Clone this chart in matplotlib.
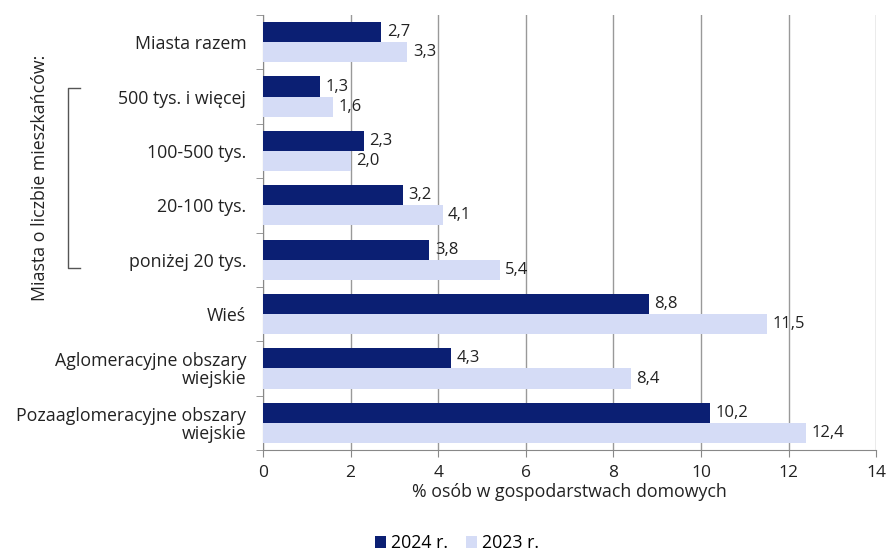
import numpy as np
import matplotlib.pyplot as plt
from matplotlib.ticker import FixedLocator

plt.rcParams['font.family'] = ['Open Sans', 'DejaVu Sans']

categories = ["Miasta razem", "500 tys. i więcej", "100-500 tys.", "20-100 tys.",
              "poniżej 20 tys.", "Wieś", "Aglomeracyjne obszary\nwiejskie",
              "Pozaaglomeracyjne obszary\nwiejskie"]
v2024 = [2.7, 1.3, 2.3, 3.2, 3.8, 8.8, 4.3, 10.2]
v2023 = [3.3, 1.6, 2.0, 4.1, 5.4, 11.5, 8.4, 12.4]
series_labels = ["2024 r.", "2023 r."]

dark = "#0b1f73"
light = "#d5dcf6"
txt = "#222222"
fs = 12.8

fig = plt.figure(figsize=(8.88, 5.57), dpi=100)
ax = fig.add_axes([0.296, 0.192, 0.691, 0.781])

y = np.arange(len(categories))
h = 0.37
b1 = ax.barh(y - h / 2, v2024, height=h, color=dark, label=series_labels[0], zorder=3)
b2 = ax.barh(y + h / 2, v2023, height=h, color=light, label=series_labels[1], zorder=3)

for bars, vals in ((b1, v2024), (b2, v2023)):
    for bar, v in zip(bars, vals):
        ax.annotate(f"{v:.1f}".replace(".", ","),
                    (bar.get_width(), bar.get_y() + bar.get_height() / 2),
                    xytext=(4, 0), textcoords="offset points",
                    ha="left", va="center", fontsize=12, color=txt)

ax.set_ylim(len(categories) - 0.5, -0.5)
ax.set_xlim(0, 14)
ax.set_xticks(np.arange(0, 15, 2))
ax.set_yticks(y)
ax.set_yticklabels(categories, fontsize=fs, color=txt, linespacing=1.0)
ax.yaxis.set_minor_locator(FixedLocator(np.arange(-0.5, len(categories), 1)))
ax.tick_params(axis="y", which="major", length=0, pad=12)
ax.tick_params(axis="y", which="minor", length=5, color="#888888")
ax.tick_params(axis="x", length=5, color="#888888", labelsize=12.5, labelcolor=txt, pad=6)

ax.grid(axis="x", color="#999999", linewidth=1, zorder=0)
for s in ["top", "right"]:
    ax.spines[s].set_visible(False)
ax.spines["left"].set_color("#888888")
ax.spines["bottom"].set_color("#888888")

ax.set_xlabel("% osób w gospodarstwach domowych", fontsize=fs, color=txt, labelpad=1)

# bracket for city-size group
fig.text(0.045, 0.68, "Miasta o liczbie mieszkańców:", rotation=90,
         ha="center", va="center", fontsize=fs, color=txt)
bx0, bx1 = 68 / 888, 80 / 888
by0, by1 = 1 - 88 / 557, 1 - 268 / 557
fig.add_artist(plt.Line2D([bx1, bx0, bx0, bx1], [by0, by0, by1, by1],
                          color="#555555", linewidth=1))

fig.legend(handles=[b1, b2], labels=series_labels, loc="lower center",
           bbox_to_anchor=(0.515, -0.02), ncol=2, frameon=False, fontsize=fs,
           handlelength=0.6, handleheight=0.6, handletextpad=0.3, columnspacing=1.0)

fig.savefig("out.png", dpi=100)
